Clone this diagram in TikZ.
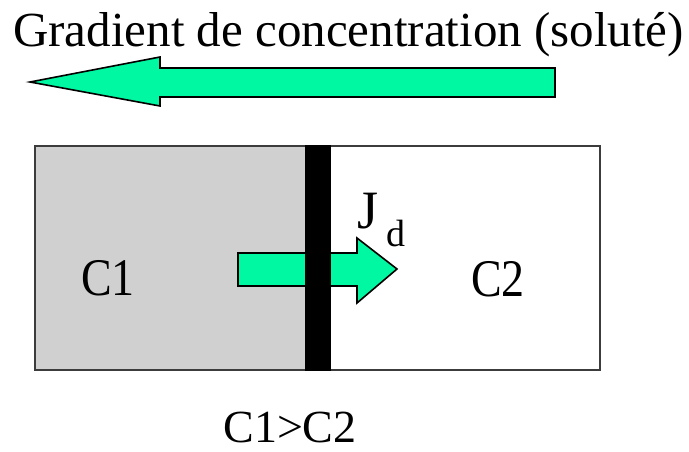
\documentclass[tikz,border=0pt]{standalone}
\usepackage{fontspec}
\setmainfont{Liberation Serif}
\definecolor{flowgreen}{RGB}{0,248,162}
\definecolor{chambergray}{RGB}{208,208,208}
\definecolor{frame}{RGB}{60,60,60}
\tikzset{
  flowarrow/.style={fill=flowgreen, draw=black, line width=1.6pt, line join=miter},
  label/.style={inner sep=0pt, font=\fontsize{46}{50}\selectfont},
}
\begin{document}
\begin{tikzpicture}[x=1pt, y=-1pt]
\useasboundingbox (0,0) rectangle (689,451);
% title
\node[label, anchor=base west, font=\fontsize{49}{53}\selectfont] (title) at (13,46) {Gradient de concentration (soluté)};
% big gradient arrow
\draw[flowarrow] (555,68) -- (160,68) -- (160,57) -- (30,82) -- (160,106) -- (160,97) -- (555,97) -- cycle;
% chambers
\fill[chambergray] (35,146) rectangle (305,370);
\draw[frame, line width=2.5pt] (35,146) rectangle (600,370);
% flux arrow
\draw[flowarrow] (238,253) -- (357,253) -- (357,238) -- (397,269) -- (357,303) -- (357,286) -- (238,286) -- cycle;
% membrane
\fill[black] (305,145) rectangle (331,371);
% labels
\node[label, yscale=1.15] (c1) at (108,278) {C1};
\node[label, yscale=1.15] (c2) at (498,279) {C2};
\node[label, anchor=base west, font=\fontsize{54}{58}\selectfont] (j) at (357,228) {J};
\node[label, anchor=base west, font=\fontsize{38}{42}\selectfont] (d) at (386,246) {d};
\node[label, anchor=base] (cmp) at (290,442) {C1>C2};
\end{tikzpicture}
\end{document}
